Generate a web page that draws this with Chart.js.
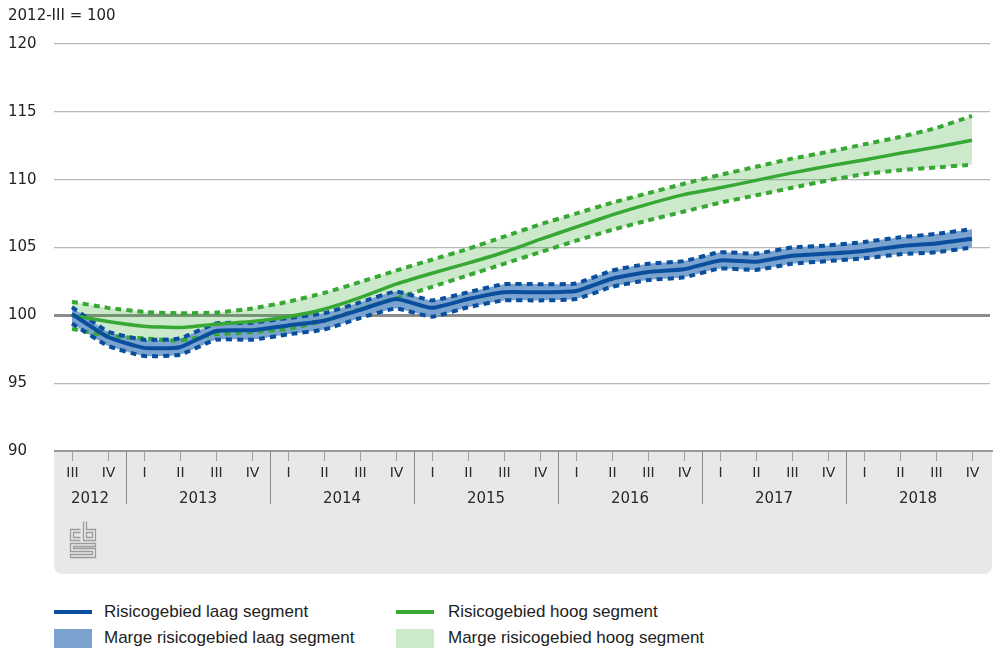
<!DOCTYPE html>
<html>
<head>
<meta charset="utf-8">
<script src="https://cdn.jsdelivr.net/npm/chart.js@4/dist/chart.umd.min.js"></script>
<style>
  html,body{margin:0;padding:0;background:#fff;}
  #wrap{position:relative;width:993px;height:652px;overflow:hidden;}
  #cv{position:absolute;left:0;top:0;}
  .lg{position:absolute;font-family:"Liberation Sans Narrow","Liberation Sans",sans-serif;font-size:17px;color:#222;white-space:nowrap;line-height:20px;}
  .sw{position:absolute;}
</style>
</head>
<body>
<div id="wrap">
  <canvas id="cv" width="993" height="590" style="width:993px;height:590px"></canvas>
  <div class="sw" style="left:54px;top:610px;width:38px;height:4px;background:#0a4f9e"></div>
  <div class="lg" style="left:104px;top:602px">Risicogebied laag segment</div>
  <div class="sw" style="left:396px;top:610px;width:38px;height:4px;background:#37a834"></div>
  <div class="lg" style="left:448px;top:602px">Risicogebied hoog segment</div>
  <div class="sw" style="left:54px;top:629px;width:38px;height:19px;background:#7ba3cf"></div>
  <div class="lg" style="left:104px;top:628px">Marge risicogebied laag segment</div>
  <div class="sw" style="left:396px;top:629px;width:38px;height:19px;background:#cdeacb"></div>
  <div class="lg" style="left:448px;top:628px">Marge risicogebied hoog segment</div>
</div>
<script>
const categories = ['2012-III','2012-IV','2013-I','2013-II','2013-III','2013-IV','2014-I','2014-II','2014-III','2014-IV','2015-I','2015-II','2015-III','2015-IV','2016-I','2016-II','2016-III','2016-IV','2017-I','2017-II','2017-III','2017-IV','2018-I','2018-II','2018-III','2018-IV'];
const quarterLabels = ['III','IV','I','II','III','IV','I','II','III','IV','I','II','III','IV','I','II','III','IV','I','II','III','IV','I','II','III','IV'];
const yearLabels = ['2012','2013','2014','2015','2016','2017','2018'];
const yTicks = [90,95,100,105,110,115,120];

const laagMid  = [100.1, 98.4, 97.6, 97.65, 98.85, 98.9, 99.25, 99.6, 100.4, 101.2, 100.55, 101.2, 101.7, 101.7, 101.8, 102.7, 103.2, 103.4, 104.05, 103.95, 104.4, 104.55, 104.75, 105.1, 105.3, 105.65];
const laagHigh = [100.6, 98.8, 98.2, 98.3, 99.4, 99.45, 99.8, 100.15, 100.95, 101.75, 101.1, 101.7, 102.3, 102.3, 102.35, 103.3, 103.8, 104.0, 104.65, 104.55, 105.0, 105.15, 105.4, 105.75, 106.0, 106.35];
const laagLow  = [99.4, 97.75, 97.0, 97.1, 98.2, 98.2, 98.6, 98.95, 99.8, 100.5, 99.9, 100.6, 101.1, 101.1, 101.2, 102.1, 102.6, 102.8, 103.45, 103.35, 103.8, 104.0, 104.2, 104.5, 104.65, 105.0];

const hoogMid  = [100.0, 99.55, 99.2, 99.1, 99.35, 99.55, 99.9, 100.45, 101.3, 102.3, 103.1, 103.85, 104.65, 105.6, 106.5, 107.4, 108.2, 108.9, 109.4, 109.95, 110.5, 111.0, 111.45, 111.95, 112.4, 112.9];
const hoogHigh = [101.0, 100.55, 100.25, 100.15, 100.2, 100.5, 101.0, 101.65, 102.45, 103.3, 104.1, 104.9, 105.8, 106.7, 107.5, 108.3, 109.0, 109.7, 110.35, 110.95, 111.55, 112.05, 112.6, 113.15, 113.8, 114.7];
const hoogLow  = [99.0, 98.5, 98.3, 98.15, 98.6, 98.75, 99.0, 99.6, 100.45, 101.25, 102.1, 102.95, 103.8, 104.65, 105.5, 106.3, 107.0, 107.65, 108.3, 108.85, 109.4, 109.95, 110.4, 110.7, 110.9, 111.1];

const BLUE = '#0a4f9e', GREEN = '#37a834', BLUE_BAND = '#7ba3cf', GREEN_BAND = 'rgba(55,168,52,0.25)';
const AXISFONT = '"DejaVu Sans", sans-serif';

const axisPlugin = {
  id: 'axisArea',
  beforeDraw(chart) {
    const {ctx, chartArea: a} = chart;
    ctx.save();
    ctx.font = '15px ' + AXISFONT;
    ctx.fillStyle = '#222';
    ctx.textBaseline = 'middle';
    ctx.textAlign = 'left';
    ctx.fillText('2012-III = 100', 8, 16);
    ctx.restore();
  },
  afterDraw(chart) {
    const {ctx, chartArea: a, scales: {x}} = chart;
    const top = a.bottom, bot = 574, left = a.left, right = 992, r = 9;
    ctx.save();
    ctx.fillStyle = '#e8e8e8';
    ctx.beginPath();
    ctx.moveTo(left, top);
    ctx.lineTo(right, top);
    ctx.lineTo(right, bot - r);
    ctx.quadraticCurveTo(right, bot, right - r, bot);
    ctx.lineTo(left + r, bot);
    ctx.quadraticCurveTo(left, bot, left, bot - r);
    ctx.closePath();
    ctx.fill();
    // axis line
    ctx.strokeStyle = '#9a9a9a';
    ctx.lineWidth = 2;
    ctx.beginPath(); ctx.moveTo(left, top); ctx.lineTo(993, top); ctx.stroke();
    // ticks and labels
    ctx.lineWidth = 1;
    ctx.strokeStyle = '#a0a0a0';
    ctx.fillStyle = '#2a2a2a';
    ctx.textAlign = 'center';
    ctx.textBaseline = 'middle';
    ctx.font = '14px ' + AXISFONT;
    const half = (x.getPixelForValue(1) - x.getPixelForValue(0)) / 2;
    const yearStart = [];
    categories.forEach((c, i) => {
      const px = Math.round(x.getPixelForValue(i)) + 0.5;
      ctx.beginPath(); ctx.moveTo(px, top); ctx.lineTo(px, top + 10); ctx.stroke();
      ctx.fillText(quarterLabels[i], px, 473);
      if (quarterLabels[i] === 'I') yearStart.push(i);
    });
    // year separators
    ctx.strokeStyle = '#8a8a8a';
    yearStart.forEach(i => {
      const px = Math.round(x.getPixelForValue(i) - half) + 0.5;
      ctx.beginPath(); ctx.moveTo(px, top); ctx.lineTo(px, 504); ctx.stroke();
    });
    // year labels
    ctx.font = '15px ' + AXISFONT;
    yearLabels.forEach(y => {
      const idx = categories.map((c, i) => c.startsWith(y) ? i : -1).filter(i => i >= 0);
      const cx = (x.getPixelForValue(idx[0]) + x.getPixelForValue(idx[idx.length - 1])) / 2;
      ctx.fillText(y, cx, 499);
    });
    // logo (approximate)
    ctx.strokeStyle = '#9b9b9b';
    ctx.lineWidth = 1.3;
    const L = 70.5, T = 521.5;
    ctx.beginPath();
    // c
    ctx.moveTo(L + 10, T + 8); ctx.lineTo(L, T + 8); ctx.lineTo(L, T + 19); ctx.lineTo(L + 10, T + 19);
    ctx.moveTo(L + 10, T + 11); ctx.lineTo(L + 3, T + 11); ctx.lineTo(L + 3, T + 16); ctx.lineTo(L + 10, T + 16);
    // b
    ctx.moveTo(L + 13, T); ctx.lineTo(L + 13, T + 19); ctx.lineTo(L + 25, T + 19); ctx.lineTo(L + 25, T + 8); ctx.lineTo(L + 16, T + 8); ctx.lineTo(L + 16, T);
    ctx.rect(L + 16, T + 11, 6, 5);
    // S
    ctx.moveTo(L + 25, T + 22); ctx.lineTo(L, T + 22); ctx.lineTo(L, T + 30); ctx.lineTo(L + 22, T + 30); ctx.lineTo(L + 22, T + 33); ctx.lineTo(L, T + 33); ctx.lineTo(L, T + 36); ctx.lineTo(L + 25, T + 36); ctx.lineTo(L + 25, T + 27); ctx.lineTo(L + 3, T + 27); ctx.lineTo(L + 3, T + 25); ctx.lineTo(L + 25, T + 25); ctx.closePath();
    ctx.stroke();
    ctx.restore();
  }
};

const dashed = [6, 5];
new Chart(document.getElementById('cv'), {
  type: 'line',
  data: {
    labels: categories,
    datasets: [
      {label: 'hoogHigh', data: hoogHigh, borderColor: GREEN, borderWidth: 4, borderDash: dashed, backgroundColor: GREEN_BAND, fill: '+1', order: 3, pointRadius: 0, tension: 0.15},
      {label: 'hoogLow', data: hoogLow, borderColor: GREEN, borderWidth: 4, borderDash: dashed, fill: false, order: 3, pointRadius: 0, tension: 0.15},
      {label: 'laagHigh', data: laagHigh, borderColor: BLUE, borderWidth: 4, borderDash: dashed, backgroundColor: BLUE_BAND, fill: '+1', order: 2, pointRadius: 0, tension: 0.15},
      {label: 'laagLow', data: laagLow, borderColor: BLUE, borderWidth: 4, borderDash: dashed, fill: false, order: 2, pointRadius: 0, tension: 0.15},
      {label: 'Risicogebied hoog segment', data: hoogMid, borderColor: GREEN, borderWidth: 3.5, fill: false, order: 1, pointRadius: 0, tension: 0.15},
      {label: 'Risicogebied laag segment', data: laagMid, borderColor: BLUE, borderWidth: 4, fill: false, order: 0, pointRadius: 0, tension: 0.15}
    ]
  },
  options: {
    responsive: false,
    animation: false,
    events: [],
    layout: {padding: {left: 8, top: 44, right: 3, bottom: 139}},
    plugins: {
      legend: {display: false},
      tooltip: {enabled: false},
      filler: {drawTime: 'beforeDatasetsDraw'}
    },
    scales: {
      x: {display: false, offset: true},
      y: {
        min: 90, max: 120,
        afterBuildTicks: s => { s.ticks = yTicks.map(v => ({value: v})); },
        afterFit: s => { s.width = 46; },
        border: {display: false},
        grid: {
          drawTicks: false,
          color: c => c.tick.value === 100 ? '#8c8c8c' : (c.tick.value === 90 ? 'rgba(0,0,0,0)' : '#b8b8b8'),
          lineWidth: c => c.tick.value === 100 ? 3 : 1.2
        },
        ticks: {
          crossAlign: 'far',
          padding: 0,
          color: '#222',
          font: {family: 'DejaVu Sans', size: 15}
        }
      }
    }
  },
  plugins: [axisPlugin]
});
</script>
</body>
</html>
